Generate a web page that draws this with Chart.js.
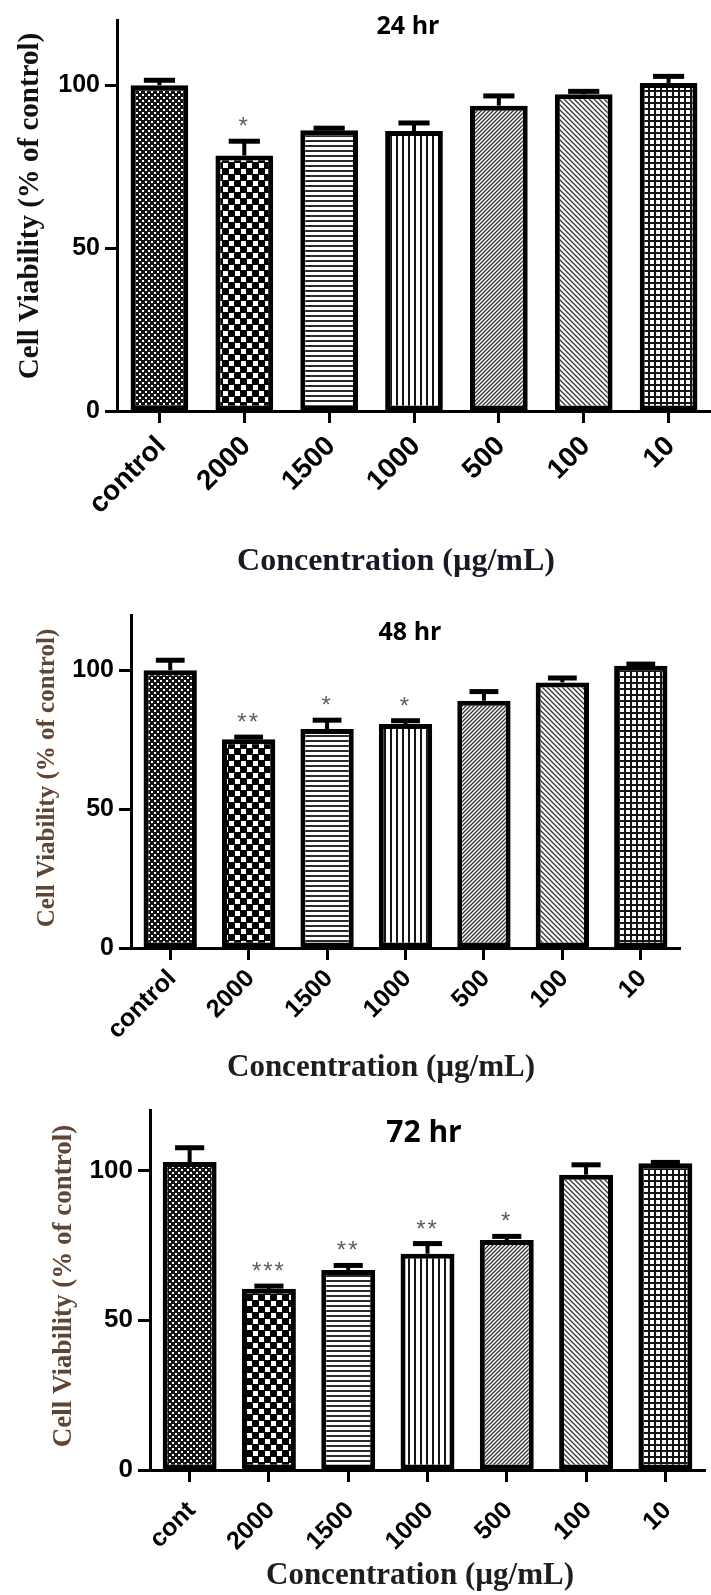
<!DOCTYPE html>
<html>
<head>
<meta charset="utf-8">
<script src="https://cdn.jsdelivr.net/npm/chart.js@4.4.1/dist/chart.umd.min.js"></script>
<style>
  html, body { margin: 0; padding: 0; background: #fff; }
  #wrap { position: relative; width: 711px; height: 1595px; }
  canvas { position: absolute; left: 0; }
</style>
</head>
<body>
<div id="wrap">
  <canvas id="grafico24" width="711" height="580" style="top:0px"></canvas>
  <canvas id="grafico48" width="711" height="510" style="top:580px"></canvas>
  <canvas id="grafico72" width="711" height="505" style="top:1090px"></canvas>
</div>
<script>
// categorias (concentração, µg/mL)
const doses = ['control', '2000', '1500', '1000', '500', '100', '10'];
const doses72 = ['cont', '2000', '1500', '1000', '500', '100', '10'];
const yTicks = [0, 50, 100];

// 24 hr: média e erro (só a parte de cima aparece)
const media24 = [100, 78.4, 86.2, 85.9, 93.7, 97.2, 100.7];
const erro24 = [1.5, 4.4, 0.6, 2.5, 3.0, 0.9, 2.0];
const sig24 = ['', '*', '', '', '', '', ''];

// 48 hr
const media48 = [100.1, 75.2, 78.9, 80.7, 89.1, 95.7, 101.7];
const erro48 = [3.6, 0.8, 3.2, 1.2, 3.3, 1.6, 0.6];
const sig48 = ['', '**', '*', '*', '', '', ''];

// 72 hr
const media72 = [102.8, 60.5, 66.8, 72.2, 76.8, 98.6, 102.4];
const erro72 = [4.8, 0.9, 1.5, 3.4, 1.2, 3.3, 0.3];
const sig72 = ['', '***', '**', '**', '*', '', ''];

const tipos = ['pontos', 'xadrez', 'horizontal', 'vertical', 'diag', 'antidiag', 'grade'];

// cria os padrões de preenchimento das barras
function criarPadrao(tipo) {
    const c = document.createElement('canvas');
    const g = c.getContext('2d');
    if (tipo === 'pontos') {
        c.width = c.height = 6;
        g.fillStyle = '#151515'; g.fillRect(0, 0, 6, 6);
        g.fillStyle = '#fff'; g.fillRect(1, 1, 2, 2); g.fillRect(4, 4, 2, 2);
    } else if (tipo === 'xadrez') {
        c.width = c.height = 12;
        g.fillStyle = '#000'; g.fillRect(0, 0, 12, 12);
        g.fillStyle = '#fff'; g.fillRect(1, 1, 5, 5); g.fillRect(7, 7, 5, 5);
    } else if (tipo === 'horizontal') {
        c.width = 4; c.height = 5;
        g.fillStyle = '#fff'; g.fillRect(0, 0, 4, 5);
        g.fillStyle = '#2a2a2a'; g.fillRect(0, 0, 4, 2);
    } else if (tipo === 'vertical') {
        c.width = 6; c.height = 4;
        g.fillStyle = '#fff'; g.fillRect(0, 0, 6, 4);
        g.fillStyle = '#151515'; g.fillRect(0, 0, 2, 4);
    } else if (tipo === 'diag' || tipo === 'antidiag') {
        const s = tipo === 'diag' ? 4 : 5;
        c.width = c.height = s;
        g.fillStyle = '#fff'; g.fillRect(0, 0, s, s);
        g.strokeStyle = '#333'; g.lineWidth = 1.3;
        g.beginPath();
        if (tipo === 'diag') {
            g.moveTo(-1, s + 1); g.lineTo(s + 1, -1);
            g.moveTo(-1, 1); g.lineTo(1, -1);
            g.moveTo(s - 1, s + 1); g.lineTo(s + 1, s - 1);
        } else {
            g.moveTo(-1, -1); g.lineTo(s + 1, s + 1);
            g.moveTo(s - 1, -1); g.lineTo(s + 1, 1);
            g.moveTo(-1, s - 1); g.lineTo(1, s + 1);
        }
        g.stroke();
    } else {
        c.width = c.height = 6;
        g.fillStyle = '#fff'; g.fillRect(0, 0, 6, 6);
        g.fillStyle = '#151515'; g.fillRect(0, 0, 6, 2); g.fillRect(0, 0, 2, 6);
    }
    return g.createPattern(c, 'repeat');
}

// barras de erro, asteriscos e títulos
function pluginPainel(p) {
    return {
        id: 'painel',
        afterDatasetsDraw(chart) {
            const ctx = chart.ctx;
            const y = chart.scales.y;
            const barras = chart.getDatasetMeta(0).data;
            ctx.save();
            barras.forEach((bar, i) => {
                const topo = y.getPixelForValue(p.media[i] + p.erro[i]);
                const base = y.getPixelForValue(p.media[i]);
                const meia = bar.width * 0.27;
                ctx.fillStyle = '#000';
                ctx.fillRect(bar.x - 2, topo, 4, base - topo);
                ctx.fillRect(bar.x - meia, topo - 2.5, meia * 2, 5);
                if (p.sig[i]) {
                    ctx.fillStyle = '#5f5a66';
                    ctx.font = '24px "Liberation Sans", Arial';
                    ctx.letterSpacing = '2px';
                    ctx.textAlign = 'center';
                    ctx.textBaseline = 'alphabetic';
                    ctx.fillText(p.sig[i], bar.x, topo - 7);
                }
            });
            ctx.restore();
        },
        afterDraw(chart) {
            const ctx = chart.ctx;
            ctx.save();
            ctx.textAlign = 'center';
            ctx.textBaseline = 'middle';
            ctx.fillStyle = '#000';
            ctx.font = 'bold ' + p.tamTitulo + 'px "Open Sans", sans-serif';
            ctx.fillText(p.titulo, p.tituloX, p.tituloY);
            ctx.fillStyle = p.corX;
            ctx.font = 'bold ' + p.tamX + 'px "Liberation Serif", "Times New Roman", serif';
            ctx.fillText('Concentration (\u00b5g/mL)', p.xTitX, p.xTitY);
            ctx.translate(p.yTitX, p.yTitY);
            ctx.rotate(-Math.PI / 2);
            ctx.fillStyle = p.corY;
            ctx.font = 'bold ' + p.tamY + 'px "Liberation Serif", "Times New Roman", serif';
            ctx.fillText('Cell Viability (% of control)', 0, 0);
            ctx.restore();
        }
    };
}

function montarGrafico(id, labels, p) {
    const ctx = document.getElementById(id).getContext('2d');
    const familia = '"Liberation Sans", Arial, sans-serif';
    return new Chart(ctx, {
        type: 'bar',
        data: {
            labels: labels,
            datasets: [{
                data: p.media,
                backgroundColor: tipos.map(criarPadrao),
                borderColor: '#000',
                borderWidth: 5,
                borderSkipped: false,
                barPercentage: 0.68,
                categoryPercentage: 1
            }]
        },
        options: {
            responsive: false,
            animation: false,
            layout: { padding: { top: p.top, right: p.right, left: 0, bottom: 0 } },
            plugins: { legend: { display: false }, tooltip: { enabled: false } },
            scales: {
                x: {
                    grid: { drawOnChartArea: false, drawTicks: true, tickLength: 12, tickWidth: 3, tickColor: '#000', offset: false },
                    border: { display: true, width: 3, color: '#000' },
                    ticks: {
                        autoSkip: false, minRotation: 45, maxRotation: 45,
                        padding: p.padX, labelOffset: 2, color: '#000',
                        font: { family: familia, size: p.tamTickX, weight: 'bold' }
                    },
                    afterFit: s => { s.height = p.altX; }
                },
                y: {
                    min: 0,
                    max: 120,
                    afterBuildTicks: s => { s.ticks = yTicks.map(v => ({ value: v })); },
                    grid: { drawOnChartArea: false, drawTicks: true, tickLength: 12, tickWidth: 3, tickColor: '#000' },
                    border: { display: true, width: 3, color: '#000' },
                    ticks: { padding: 5, color: '#000', font: { family: familia, size: p.tamTickY, weight: 'bold' } },
                    afterFit: s => { s.width = p.left; }
                }
            }
        },
        plugins: [pluginPainel(p)]
    });
}

document.addEventListener('DOMContentLoaded', function () {
    montarGrafico('grafico24', doses, {
        media: media24, erro: erro24, sig: sig24,
        top: 12, right: 0, left: 117, altX: 580 - 411,
        tamTickX: 28, tamTickY: 25, padX: 7,
        titulo: '24 hr', tamTitulo: 25, tituloX: 408, tituloY: 27,
        tamX: 32, xTitX: 396, xTitY: 562, corX: '#1a1a26',
        tamY: 29, yTitX: 31, yTitY: 206, corY: '#111'
    });
    montarGrafico('grafico48', doses, {
        media: media48, erro: erro48, sig: sig48,
        top: 35, right: 31, left: 131, altX: 510 - 368,
        tamTickX: 25, tamTickY: 25, padX: 4,
        titulo: '48 hr', tamTitulo: 25, tituloX: 410, tituloY: 53,
        tamX: 31, xTitX: 381, xTitY: 488, corX: '#1e1e22',
        tamY: 25, yTitX: 48, yTitY: 198, corY: '#5e4536'
    });
    montarGrafico('grafico72', doses72, {
        media: media72, erro: erro72, sig: sig72,
        top: 20, right: 6, left: 150, altX: 505 - 380,
        tamTickX: 25, tamTickY: 26, padX: 14,
        titulo: '72 hr', tamTitulo: 30, tituloX: 424, tituloY: 43,
        tamX: 31, xTitX: 420, xTitY: 486, corX: '#1e1e22',
        tamY: 27, yTitX: 64, yTitY: 196, corY: '#5e4536'
    });
});
</script>
</body>
</html>
